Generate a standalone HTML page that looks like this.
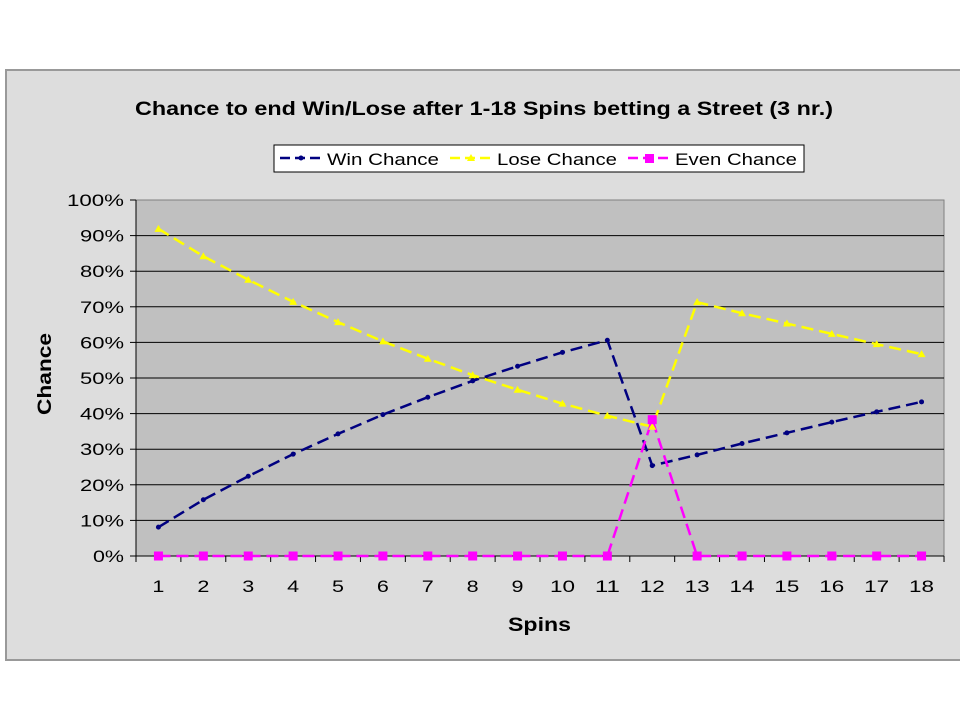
<!DOCTYPE html><html><head><style>body{margin:0;background:#fff}</style></head><body>
<svg width="960" height="720" xmlns="http://www.w3.org/2000/svg" font-family="Liberation Sans, Arial, sans-serif">
<rect x="6" y="70" width="960" height="590" fill="#dddddd" stroke="#999" stroke-width="2"/>
<text x="135" y="115" font-size="19" font-weight="bold" textLength="698" lengthAdjust="spacingAndGlyphs">Chance to end Win/Lose after 1-18 Spins betting a Street (3 nr.)</text>
<rect x="274" y="145" width="530" height="27" fill="#fff" stroke="#000"/>
<line x1="280" y1="158" x2="322" y2="158" stroke="#000080" stroke-width="2.5" stroke-dasharray="10,5"/><circle cx="301" cy="158" r="2.5" fill="#000080"/>
<text x="327" y="165" font-size="17" textLength="112" lengthAdjust="spacingAndGlyphs">Win Chance</text>
<line x1="450" y1="158" x2="492" y2="158" stroke="#ffff00" stroke-width="2.5" stroke-dasharray="10,5"/><polygon points="471,154 475,161 467,161" fill="#ffff00"/>
<text x="497" y="165" font-size="17" textLength="120" lengthAdjust="spacingAndGlyphs">Lose Chance</text>
<line x1="628" y1="158" x2="670" y2="158" stroke="#ff00ff" stroke-width="2.5" stroke-dasharray="10,5"/><rect x="645" y="154" width="9" height="9" fill="#ff00ff"/>
<text x="675" y="165" font-size="17" textLength="122" lengthAdjust="spacingAndGlyphs">Even Chance</text>
<rect x="136" y="200" width="808" height="356" fill="#c0c0c0" stroke="#808080"/>
<text x="0" y="0" font-size="19" font-weight="bold" textLength="82" lengthAdjust="spacingAndGlyphs" transform="translate(51 415) rotate(-90)">Chance</text>
<text x="508" y="631" font-size="19" font-weight="bold" textLength="63" lengthAdjust="spacingAndGlyphs">Spins</text>
<g id="g"></g>
</svg>
<script>
const ns="http://www.w3.org/2000/svg",g=document.getElementById('g');
function el(t,a,txt){const e=document.createElementNS(ns,t);for(const k in a)e.setAttribute(k,a[k]);if(txt!=null)e.textContent=txt;g.appendChild(e);return e;}
const Y=v=>556-v*3.56,X=i=>136+44.89*(i-0.5);
for(let k=0;k<=10;k++){const y=Y(k*10);if(k>0&&k<10)el('line',{x1:136,x2:944,y1:y,y2:y,stroke:'#000'});el('line',{x1:130,x2:136,y1:y,y2:y,stroke:'#000'});const s=k*10+'%';const w=s.length==2?31:s.length==3?44:57;el('text',{x:124-w,y:y+6,'font-size':17,textLength:w,lengthAdjust:'spacingAndGlyphs'},s);}
el('line',{x1:136,x2:136,y1:200,y2:556,stroke:'#000'});el('line',{x1:136,x2:944,y1:556,y2:556,stroke:'#000'});
for(let i=0;i<=18;i++){const x=136+44.89*i;el('line',{x1:x,x2:x,y1:556,y2:562,stroke:'#000'});}
for(let i=1;i<=18;i++){const w=i<10?12:25;el('text',{x:X(i)-w/2,y:592,'font-size':17,textLength:w,lengthAdjust:'spacingAndGlyphs'},i);}
const win=[8.1,15.8,22.4,28.6,34.3,39.7,44.6,49.2,53.3,57.2,60.6,25.4,28.4,31.6,34.6,37.6,40.5,43.3];
const lose=[91.9,84.2,77.6,71.4,65.7,60.3,55.4,50.8,46.7,42.8,39.4,36.3,71.3,68.2,65.3,62.4,59.5,56.7];
const even=win.map((_,i)=>i==11?38.3:0);
function line(d,c){el('polyline',{points:d.map((v,i)=>X(i+1)+','+Y(v)).join(' '),fill:'none',stroke:c,'stroke-width':2.5,'stroke-dasharray':'12,6'});}
line(win,'#000080');line(lose,'#ffff00');line(even,'#ff00ff');
win.forEach((v,i)=>el('circle',{cx:X(i+1),cy:Y(v),r:2.5,fill:'#000080'}));
lose.forEach((v,i)=>{const x=X(i+1),y=Y(v);el('polygon',{points:`${x},${y-4} ${x+4},${y+3} ${x-4},${y+3}`,fill:'#ffff00'});});
even.forEach((v,i)=>el('rect',{x:X(i+1)-4.5,y:Y(v)-4.5,width:9,height:9,fill:'#ff00ff'}));
</script>
</body></html>
